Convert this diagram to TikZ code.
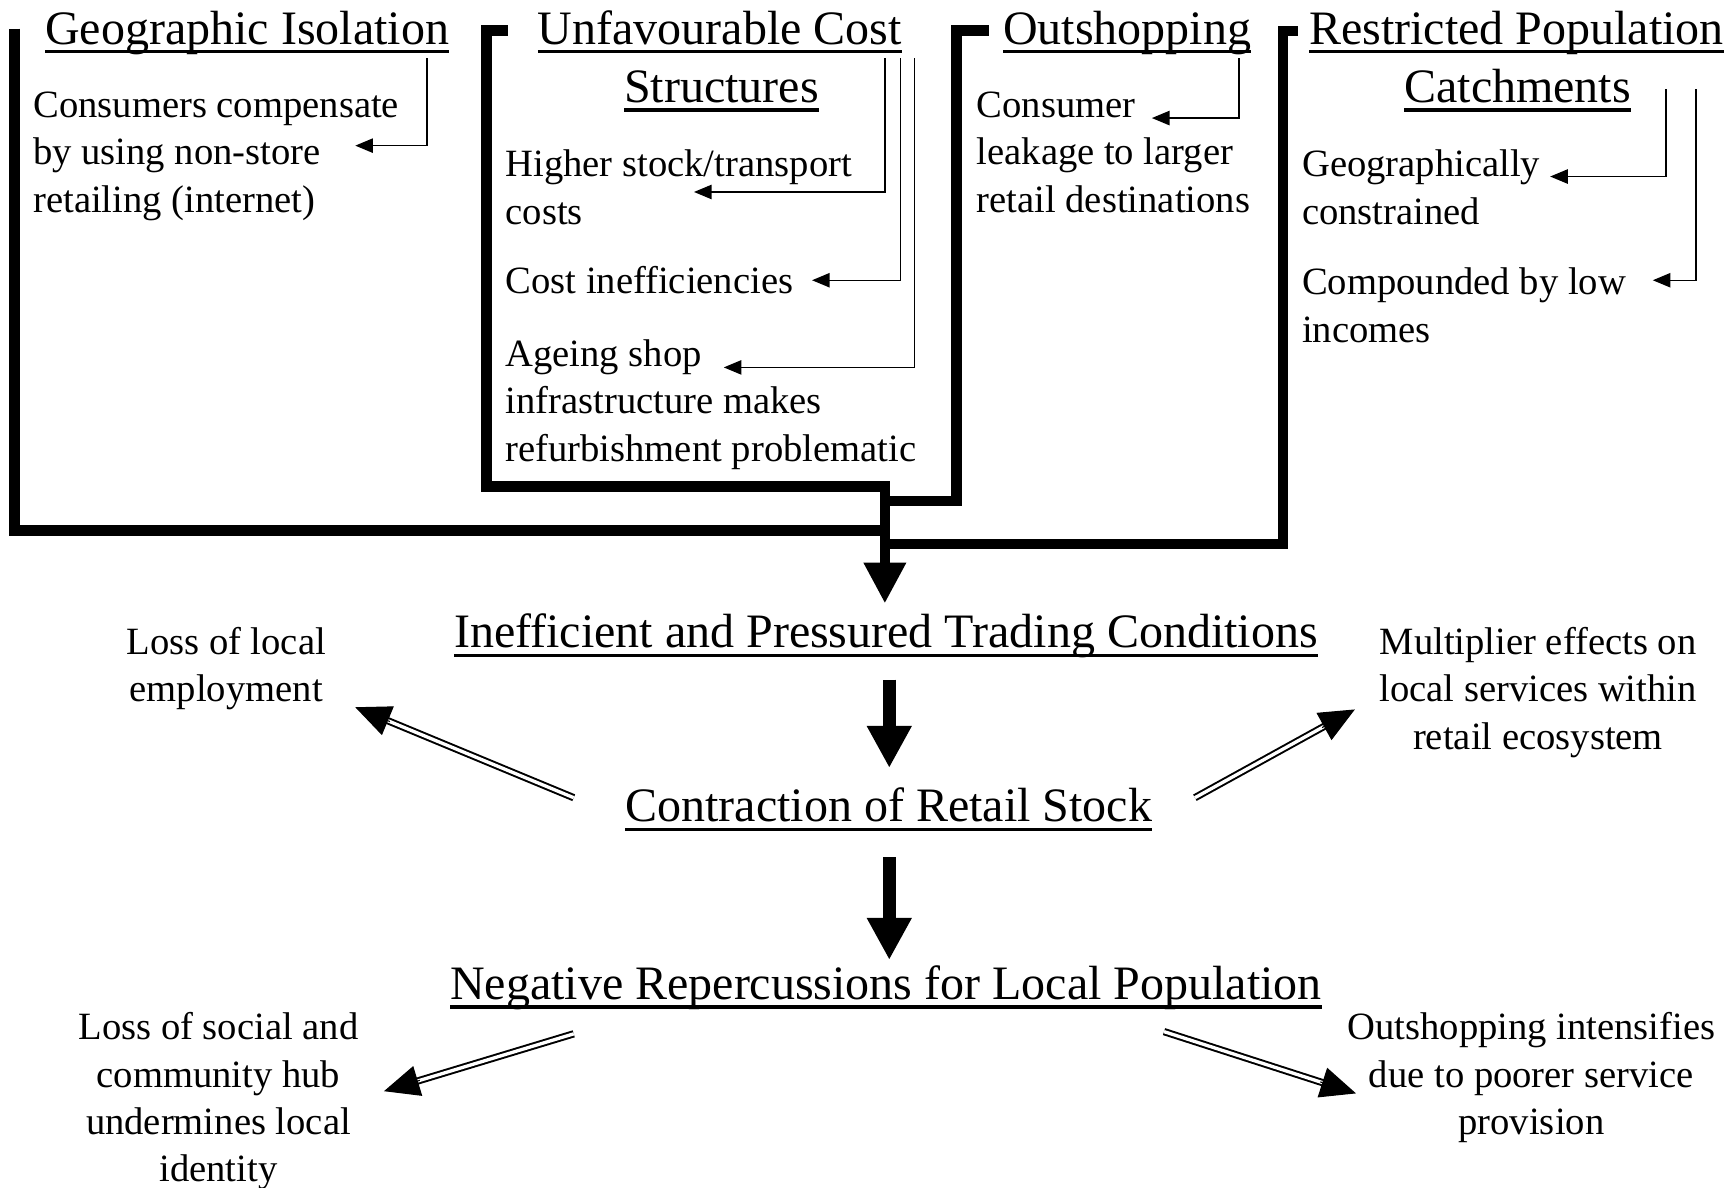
\documentclass[tikz,border=0pt]{standalone}
\usepackage{fontspec}
\setmainfont{Liberation Serif}
\usetikzlibrary{arrows.meta,calc}
\newcommand\ulhead[1]{\setbox0\hbox{#1}\leavevmode\rlap{\rule[-8.1pt]{\wd0}{2.8pt}}\box0}
\newcommand\bodyfont{\fontsize{35}{43}\selectfont}
\newcommand\headfont{\fontsize{43.5}{53}\selectfont}
\tikzset{
  head/.style={font=\headfont, inner sep=0pt, anchor=base, yshift=-2pt},
  bodyL/.style={font=\bodyfont, inner sep=0pt, anchor=north west, align=left, yshift=-2pt},
  bodyC/.style={font=\bodyfont, inner sep=0pt, anchor=north, align=center, yshift=-2pt},
  heavy/.style={line width=9.5pt, line join=miter, line cap=butt},
  thin/.style={line width=1.3pt, -{Triangle[length=16pt,width=13pt]}},
  downarrow/.style={line width=11.5pt, -{Triangle[length=38pt,width=38pt]}},
  dblshaft/.style={double, line width=1.8pt, double distance=3pt},
  dbltip/.style={line width=1pt, -{Triangle[length=32pt,width=28pt]}}
}
\begin{document}
\begin{tikzpicture}[x=1pt,y=-1pt]
\useasboundingbox (0,0) rectangle (1568,1076);

% ---- top titles
\node[head] (geo) at (224,38) {\ulhead{Geographic Isolation}};
\node[head] (unfA) at (652.5,38) {\ulhead{Unfavourable Cost}};
\node[head] (unfB) at (654,91) {\ulhead{Structures}};
\node[head] (outs) at (1021.5,38) {\ulhead{Outshopping}};
\node[head] (resA) at (1374.5,38) {\ulhead{Restricted Population}};
\node[head] (resB) at (1375.5,91) {\ulhead{Catchments}};

% ---- top body texts
\node[bodyL] (geoT) at (30,73.9) {\strut Consumers compensate\\\strut by using non-store\\\strut retailing (internet)};
\node[bodyL] (unfT1) at (458,127.9) {\strut Higher stock/transport\\\strut costs};
\node[bodyL] (unfT2) at (458,233.9) {\strut Cost inefficiencies};
\node[bodyL] (unfT3) at (458,299.9) {\strut Ageing shop\\\strut infrastructure makes\\\strut refurbishment problematic};
\node[bodyL] (outT) at (885,73.9) {\strut Consumer\\\strut leakage to larger\\\strut retail destinations};
\node[bodyL] (resT1) at (1180,127.9) {\strut Geographically\\\strut constrained};
\node[bodyL] (resT2) at (1180,234.9) {\strut Compounded by low\\\strut incomes};

% ---- thin elbow arrows
\coordinate (g0) at (387,53);   \coordinate (g1) at (322,132);
\coordinate (u0) at (802,53);   \coordinate (u1) at (629,174);
\coordinate (v0) at (816,53);   \coordinate (v1) at (736,254);
\coordinate (w0) at (829,53);   \coordinate (w1) at (656,333);
\coordinate (o0) at (1123,53);  \coordinate (o1) at (1044,107);
\coordinate (r0) at (1510,81);  \coordinate (r1) at (1405,160);
\coordinate (s0) at (1537,81);  \coordinate (s1) at (1498,254);
\draw[thin] (g0) |- (g1);
\draw[thin] (u0) |- (u1);
\draw[thin] (v0) |- (v1);
\draw[thin] (w0) |- (w1);
\draw[thin] (o0) |- (o1);
\draw[thin] (r0) |- (r1);
\draw[thin] (s0) |- (s1);

% ---- heavy brackets
\coordinate (merge) at (802,441);
\draw[heavy] (13,26) -- (13,481) -- (806.75,481);
\draw[heavy] (460,27.5) -- (441,27.5) -- (441,441) -- (merge);
\draw[heavy] (896,27.5) -- (867,27.5) -- (867,454) -- (802,454);
\draw[heavy] (1176,28) -- (1163,28) -- (1163,493) -- (802,493);

% ---- central chain
\node[head] (ineff) at (803,585) {\ulhead{Inefficient and Pressured Trading Conditions}};
\node[head] (contr) at (805.5,743) {\ulhead{Contraction of Retail Stock}};
\node[head] (neg) at (803,904) {\ulhead{Negative Repercussions for Local Population}};

\coordinate (t1) at (802,547);
\draw[line width=9.5pt, -{Triangle[length=37pt,width=36pt]}] ([yshift=4.75pt]merge) -- (t1);
\coordinate (a2s) at (806,616); \coordinate (a2e) at (806,696);
\draw[downarrow] (a2s) -- (a2e);
\coordinate (a3s) at (806,777); \coordinate (a3e) at (806,870);
\draw[downarrow] (a3s) -- (a3e);

% ---- side texts
\node[bodyC] (emp) at (205,560.9) {\strut Loss of local\\\strut employment};
\node[bodyC] (mult) at (1394,560.9) {\strut Multiplier effects on\\\strut local services within\\\strut retail ecosystem};
\node[bodyC] (hub) at (198,909.9) {\strut Loss of social and\\\strut community hub\\\strut undermines local\\\strut identity};
\node[bodyC] (poor) at (1388,909.9) {\strut Outshopping intensifies\\\strut due to poorer service\\\strut provision};

% ---- double arrows
\coordinate (d1s) at (520,723);  \coordinate (d1e) at (322,641);
\coordinate (d2s) at (1083,723); \coordinate (d2e) at (1228,643);
\coordinate (d3s) at (520,937);  \coordinate (d3e) at (348,989);
\coordinate (d4s) at (1055,935); \coordinate (d4e) at (1229,991);
\foreach \p in {d1,d2,d3,d4}{
  \draw[dblshaft] (\p s) -- ($(\p e)!26pt!(\p s)$);
  \draw[dbltip] ($(\p e)!34pt!(\p s)$) -- (\p e);
}
\end{tikzpicture}
\end{document}
